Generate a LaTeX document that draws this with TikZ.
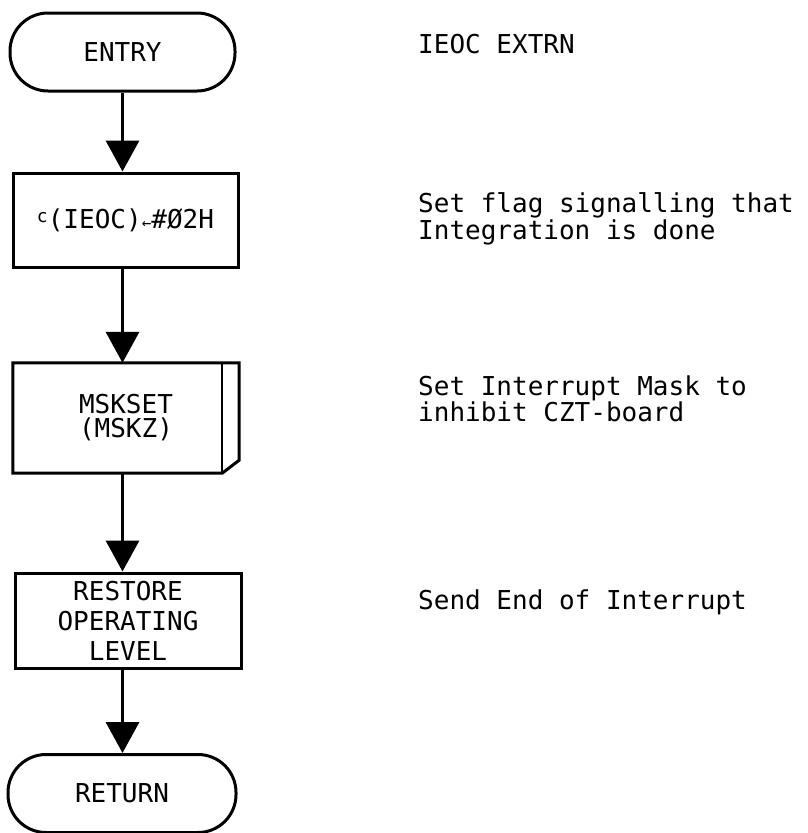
\documentclass[tikz,border=0pt]{standalone}
\usepackage{fontspec}
\usetikzlibrary{arrows.meta}
\newfontfamily\tw{DejaVu Sans Mono}
\begin{document}
\begin{tikzpicture}[x=1pt,y=-1pt,
  every node/.style={font=\tw\fontsize{26}{24}\selectfont, text=black},
  term/.style={draw, line width=3pt, rounded corners=38pt, minimum height=78pt, inner sep=0pt},
  procbox/.style={draw, line width=3pt, minimum width=225pt, inner sep=0pt, align=center},
  note/.style={anchor=west, align=left, inner sep=0pt},
  arr/.style={line width=3.5pt, -{Triangle[width=33pt,length=31pt]}}]
\useasboundingbox (0,0) rectangle (808,833);

% flow nodes
\node[term, minimum width=225pt] (entry) at (122.5,52) {ENTRY};
\node[procbox, minimum height=94pt] (b1) at (125.5,220) {\raisebox{6pt}{\fontsize{18}{18}\selectfont c}(IEOC){\fontsize{16}{16}\selectfont ←}\#Ø2H};
\node[minimum width=226pt, minimum height=110pt, inner sep=0pt, align=center] (msk) at (126,418) {MSKSET\\(MSKZ)};
\draw[line width=3pt, line join=miter] (msk.north west) -- (msk.north east) -- ([yshift=13pt]msk.south east) -- ([xshift=-17pt]msk.south east) -- (msk.south west) -- cycle;
\draw[line width=2.5pt] ([xshift=-17pt]msk.north east) -- ([xshift=-17pt]msk.south east);
\node[procbox, minimum width=226pt, minimum height=95pt, font=\tw\fontsize{26}{30}\selectfont] (b3) at (128,620.5) {RESTORE\\OPERATING\\LEVEL};
\node[term, minimum width=228pt] (ret) at (122,793.5) {RETURN};

% connectors
\draw[arr] (entry.south) -- (entry.south |- b1.north);
\draw[arr] (entry.south |- b1.south) -- (entry.south |- msk.north);
\draw[arr] (entry.south |- msk.south) -- (entry.south |- b3.north);
\draw[arr] (entry.south |- b3.south) -- (entry.south |- ret.north);

% annotations
\node[note] (t0) at (418,44) {IEOC EXTRN};
\node[note] (t1) at (418,219) {Set flag signalling that\\Integration is done};
\node[note] (t2) at (418,399) {Set Interrupt Mask to\\inhibit CZT-board};
\node[note] (t3) at (418,602) {Send End of Interrupt};
\end{tikzpicture}
\end{document}
